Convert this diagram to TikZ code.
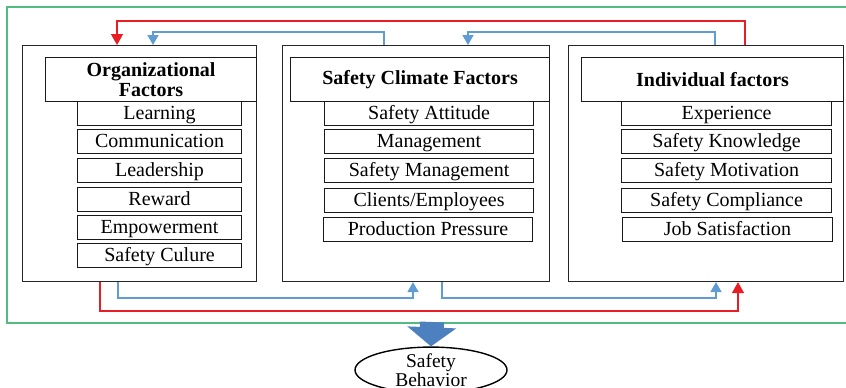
\documentclass[tikz,border=0pt]{standalone}
\usepackage{fontspec}
\setmainfont{Liberation Serif}
\usetikzlibrary{arrows.meta,shapes.geometric}
\definecolor{redc}{RGB}{232,30,36}
\definecolor{bluec}{RGB}{96,156,212}
\definecolor{greenc}{RGB}{82,188,128}
\definecolor{bigblue}{RGB}{76,128,190}
\tikzset{
  outerbox/.style={draw=black!85, line width=1.1pt, anchor=north west, inner sep=0pt},
  hdrbox/.style={draw=black!90, line width=1.1pt, anchor=north west, inner sep=0pt, align=center, minimum height=44pt, font=\bfseries\fontsize{20}{19.5}\selectfont, fill=white},
  itembox/.style={draw=black!90, line width=1.1pt, anchor=north west, inner sep=0pt, minimum height=24pt, text height=14.5pt, text depth=3.5pt, font=\fontsize{20}{20}\selectfont, fill=white},
  redline/.style={draw=redc, line width=1.5pt, -{Triangle[width=12pt,length=11pt]}},
  blueline/.style={draw=bluec, line width=1.5pt, -{Triangle[width=11pt,length=10pt]}},
  bigarrow/.style={draw=bigblue, line width=24pt, -{Triangle[width=48pt,length=19pt]}},
  behav/.style={draw=black, line width=1.4pt, ellipse, inner sep=0pt, minimum width=152pt, minimum height=44pt, align=center, font=\fontsize{19.5}{18.5}\selectfont}
}
\begin{document}
\begin{tikzpicture}[x=1pt,y=-1pt]
\useasboundingbox (0,0) rectangle (846,388);
% green frame (open on the right)
\draw[greenc, line width=1.6pt] (846,7) -- (7,7) -- (7,323) -- (846,323);
\coordinate (gb) at (432,322);
% outer boxes
\node[outerbox, minimum width=234pt, minimum height=236pt] (org) at (22,45) {};
\node[outerbox, minimum width=267pt, minimum height=236pt] (sc) at (282,45) {};
\node[outerbox, minimum width=275pt, minimum height=236pt] (ind) at (568,45) {};
% headers
\node[hdrbox, minimum width=211pt] (orgh) at (45,57) {Organizational\\Factors};
\node[hdrbox, minimum width=259pt] (sch) at (290,57) {Safety Climate Factors};
\node[hdrbox, minimum width=262pt] (indh) at (581,57) {Individual factors};
% organizational items
\node[itembox, minimum width=164pt] (o1) at (77,101) {Learning};
\node[itembox, minimum width=164pt] (o2) at (77,129) {Communication};
\node[itembox, minimum width=164pt] (o3) at (77,158) {Leadership};
\node[itembox, minimum width=164pt] (o4) at (77,187) {Reward};
\node[itembox, minimum width=164pt] (o5) at (77,215) {Empowerment};
\node[itembox, minimum width=164pt] (o6) at (77,243) {Safety Culure};
% safety climate items
\node[itembox, minimum width=209pt] (s1) at (324,101) {Safety Attitude};
\node[itembox, minimum width=209pt] (s2) at (324,129) {Management};
\node[itembox, minimum width=209pt] (s3) at (324,158) {Safety Management};
\node[itembox, minimum width=209pt] (s4) at (324,188) {Clients/Employees};
\node[itembox, minimum width=209pt] (s5) at (323,217) {Production Pressure};
% individual items
\node[itembox, minimum width=210pt] (i1) at (621,101) {Experience};
\node[itembox, minimum width=210pt] (i2) at (621,129) {Safety Knowledge};
\node[itembox, minimum width=210pt] (i3) at (621,158) {Safety Motivation};
\node[itembox, minimum width=210pt] (i4) at (621,188) {Safety Compliance};
\node[itembox, minimum width=210pt] (i5) at (622,217) {Job Satisfaction};
% top connectors
\draw[redline] ([xshift=177pt]ind.north west) -- ++(0,-24) -| ([xshift=95pt]org.north west);
\draw[blueline] ([xshift=102pt]sc.north west) -- ++(0,-13) -| ([xshift=131pt]org.north west);
\draw[blueline] ([xshift=147pt]ind.north west) -- ++(0,-13) -| ([xshift=186pt]sc.north west);
% bottom connectors
\draw[redline] ([xshift=78pt]org.south west) -- ++(0,29) -| ([xshift=170pt]ind.south west);
\draw[blueline] ([xshift=96pt]org.south west) -- ++(0,16) -| ([xshift=131pt]sc.south west);
\draw[blueline] ([xshift=160pt]sc.south west) -- ++(0,16) -| ([xshift=148pt]ind.south west);
% outcome
\node[behav] (sb) at (431,370) {Safety\\Behavior};
\draw[bigarrow] (gb) -- (sb.north);
\end{tikzpicture}
\end{document}
